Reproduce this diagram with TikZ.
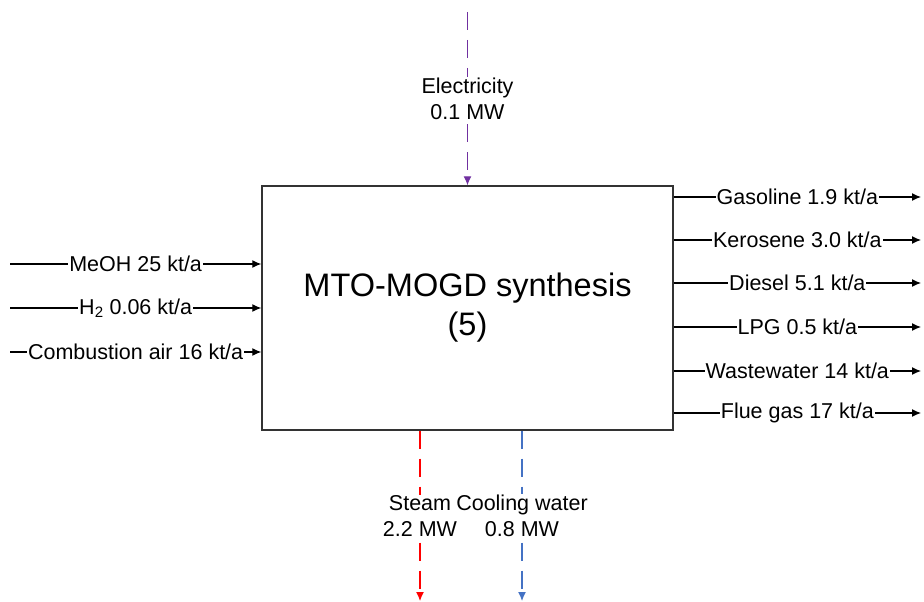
\documentclass[tikz,border=0pt]{standalone}
\usepackage{fontspec}
\setmainfont{Liberation Sans}
\usetikzlibrary{arrows.meta}
\definecolor{elecpurple}{RGB}{112,48,160}
\definecolor{steamred}{RGB}{255,0,0}
\definecolor{coolblue}{RGB}{68,114,196}
\begin{document}
\begin{tikzpicture}[x=1pt,y=-1pt,>={Latex[length=9pt,width=8pt]},
  flow/.style={->,line width=1.2pt},
  util/.style={->,line width=1.2pt,dash pattern=on 18pt off 10pt},
  lbl/.style={fill=white,inner sep=1pt,font=\fontsize{21.5}{26}\selectfont,align=center}]
\useasboundingbox (0,0) rectangle (924,602);
\node[draw=black!80,line width=1.4pt,minimum width=411pt,minimum height=244pt,
  font=\fontsize{32.5}{39}\selectfont,align=center] (mto) at (467.5,308) {MTO-MOGD synthesis\\(5)};
% feeds
\coordinate (meoh) at (10,264); \coordinate (hyd) at (10,308); \coordinate (air) at (10,352);
\draw[flow] (meoh) -- node[lbl]{MeOH 25 kt/a} (meoh -| mto.west);
\draw[flow] (hyd) -- node[lbl]{H\textsubscript{2} 0.06 kt/a} (hyd -| mto.west);
\draw[flow] (air) -- node[lbl]{Combustion air 16 kt/a} (air -| mto.west);
% products
\coordinate (gas) at (921,197); \coordinate (ker) at (921,240); \coordinate (dies) at (921,283);
\coordinate (lpg) at (921,327); \coordinate (ww) at (921,371); \coordinate (flue) at (921,413);
\draw[flow] (gas -| mto.east) -- node[lbl]{Gasoline 1.9 kt/a} (gas);
\draw[flow] (ker -| mto.east) -- node[lbl]{Kerosene 3.0 kt/a} (ker);
\draw[flow] (dies -| mto.east) -- node[lbl]{Diesel 5.1 kt/a} (dies);
\draw[flow] (lpg -| mto.east) -- node[lbl]{LPG 0.5 kt/a} (lpg);
\draw[flow] (ww -| mto.east) -- node[lbl]{Wastewater 14 kt/a} (ww);
\draw[flow] (flue -| mto.east) -- node[lbl]{Flue gas 17 kt/a} (flue);
% utilities
\coordinate (elec) at (467.5,12); \coordinate (steam) at (420,601); \coordinate (cool) at (522,601);
\draw[util,elecpurple] (elec) -- node[lbl,text=black]{Electricity\\0.1 MW} (mto.north);
\draw[util,coolblue] (cool |- mto.south) -- node[lbl,text=black]{Cooling water\\0.8 MW} (cool);
\draw[util,steamred] (steam |- mto.south) -- node[lbl,text=black,inner sep=0pt]{Steam\\2.2 MW} (steam);
\end{tikzpicture}
\end{document}
